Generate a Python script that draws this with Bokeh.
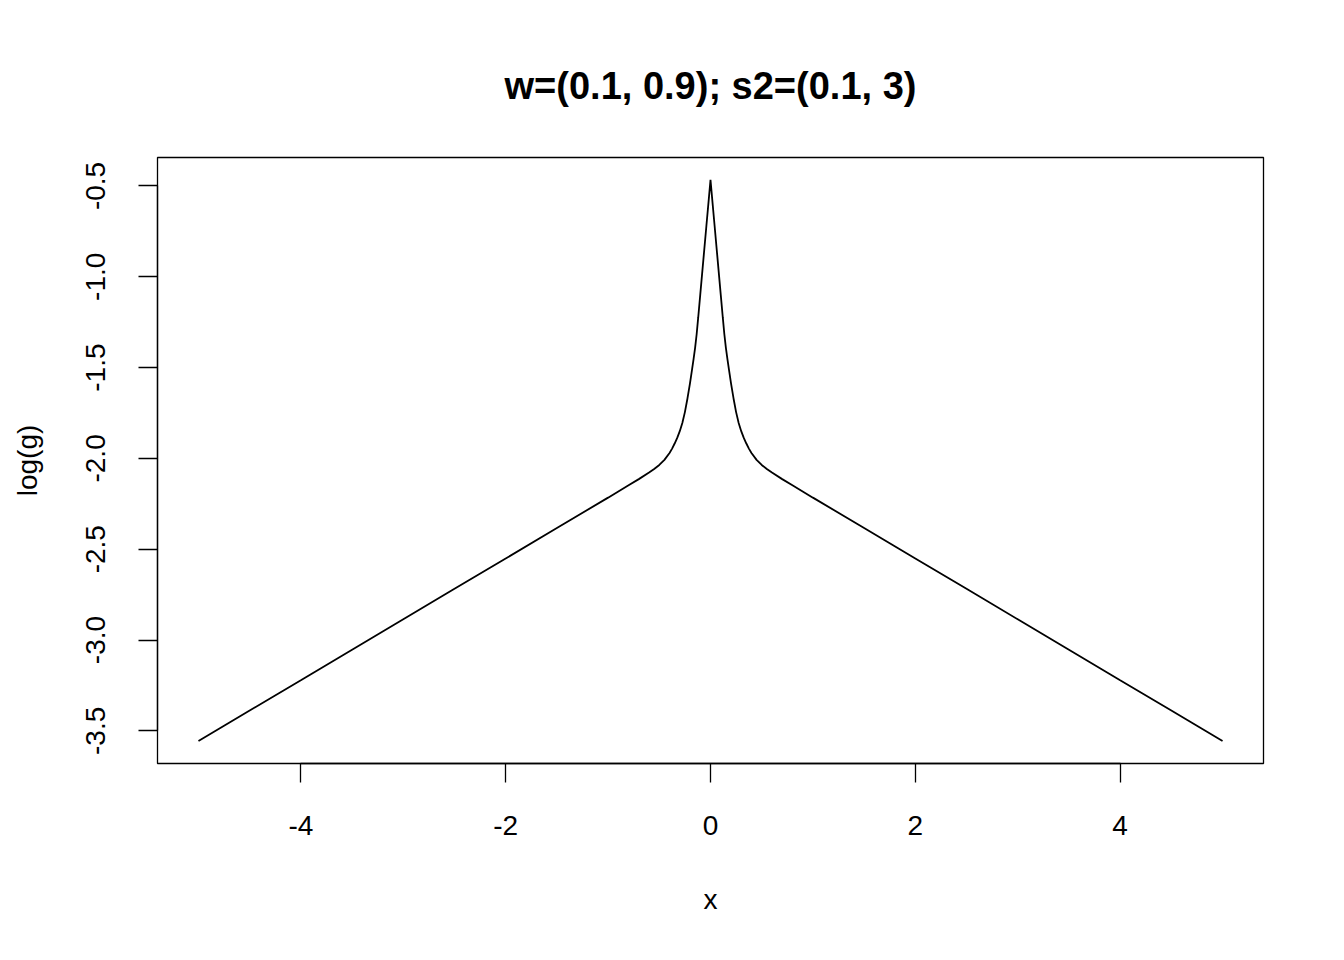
from bokeh.plotting import figure
from bokeh.models import FixedTicker, Range1d, PrintfTickFormatter
from bokeh.embed import file_html
from bokeh.resources import INLINE

# values (symmetric curve)
x_vals = [-5.0, -4.5, -4.0, -3.5, -3.0, -2.5, -2.0, -1.5, -1.0, -0.9, -0.8, -0.7, -0.6,
          -0.55, -0.5, -0.45, -0.4, -0.375, -0.35, -0.325, -0.3, -0.275, -0.25, -0.225,
          -0.2, -0.18, -0.165, -0.15, -0.135, -0.12, -0.1, -0.065, -0.04, -0.02, 0.0,
          0.02, 0.04, 0.065, 0.1, 0.12, 0.135, 0.15, 0.165, 0.18, 0.2,
          0.225, 0.25, 0.275, 0.3, 0.325, 0.35, 0.375, 0.4, 0.45, 0.5, 0.55,
          0.6, 0.7, 0.8, 0.9, 1.0, 1.5, 2.0, 2.5, 3.0, 3.5, 4.0, 4.5, 5.0]
logg_vals = [-3.556, -3.388, -3.221, -3.053, -2.886, -2.718, -2.551, -2.383, -2.216, -2.182,
             -2.148, -2.114, -2.078, -2.058, -2.036, -2.008, -1.970, -1.946, -1.918, -1.887,
             -1.850, -1.805, -1.745, -1.670, -1.585, -1.510, -1.452, -1.390, -1.315, -1.224,
             -1.098, -0.877, -0.719, -0.593, -0.467,
             -0.593, -0.719, -0.877, -1.098, -1.224, -1.315, -1.390, -1.452, -1.510, -1.585,
             -1.670, -1.745, -1.805, -1.850, -1.887, -1.918, -1.946, -1.970, -2.008, -2.036,
             -2.058, -2.078, -2.114, -2.148, -2.182, -2.216, -2.383, -2.551, -2.718, -2.886,
             -3.053, -3.221, -3.388, -3.556]
x_ticks = [-4, -2, 0, 2, 4]
y_ticks = [-3.5, -3.0, -2.5, -2.0, -1.5, -1.0, -0.5]
title_text = "w=(0.1, 0.9); s2=(0.1, 3)"

FONT = "Liberation Sans"

p = figure(width=1328, height=944, output_backend="svg", toolbar_location=None,
           x_range=Range1d(-5.4, 5.4), y_range=Range1d(-3.6796, -0.3434),
           min_border_left=157, min_border_right=65, min_border_top=157, min_border_bottom=181,
           title=title_text)
p.background_fill_color = "white"
p.border_fill_color = "white"
p.grid.visible = False
p.outline_line_color = "black"
p.outline_line_width = 1.3

p.title.align = "center"
p.title.text_font = FONT
p.title.text_font_size = "38px"
p.title.text_font_style = "bold"
p.title.text_color = "black"
p.title.standoff = 102

p.line(x_vals, logg_vals, line_color="black", line_width=1.8)

for ax in (p.xaxis[0], p.yaxis[0]):
    ax.major_tick_out = 19
    ax.major_tick_in = 0
    ax.minor_tick_out = 0
    ax.minor_tick_in = 0
    ax.major_tick_line_width = 1.3
    ax.axis_line_width = 1.3
    ax.axis_line_color = "black"
    ax.major_tick_line_color = "black"
    ax.major_label_text_font = FONT
    ax.major_label_text_font_size = "28px"
    ax.major_label_text_color = "black"
    ax.axis_label_text_font = FONT
    ax.axis_label_text_font_size = "28px"
    ax.axis_label_text_font_style = "normal"
    ax.axis_label_text_color = "black"

p.xaxis.ticker = FixedTicker(ticks=x_ticks)
p.xaxis.bounds = (-4, 4)
p.xaxis.formatter = PrintfTickFormatter(format="%d")
p.xaxis.axis_label = "x"
p.xaxis.major_label_standoff = 33
p.xaxis.axis_label_standoff = 46

p.yaxis.ticker = FixedTicker(ticks=y_ticks)
p.yaxis.bounds = (-3.5, -0.5)
p.yaxis.formatter = PrintfTickFormatter(format="%.1f")
p.yaxis.major_label_orientation = "vertical"
p.yaxis.axis_label = "log(g)"
p.yaxis.major_label_standoff = 33
p.yaxis.axis_label_standoff = 41

open("out.html", "w").write(file_html(p, INLINE))
